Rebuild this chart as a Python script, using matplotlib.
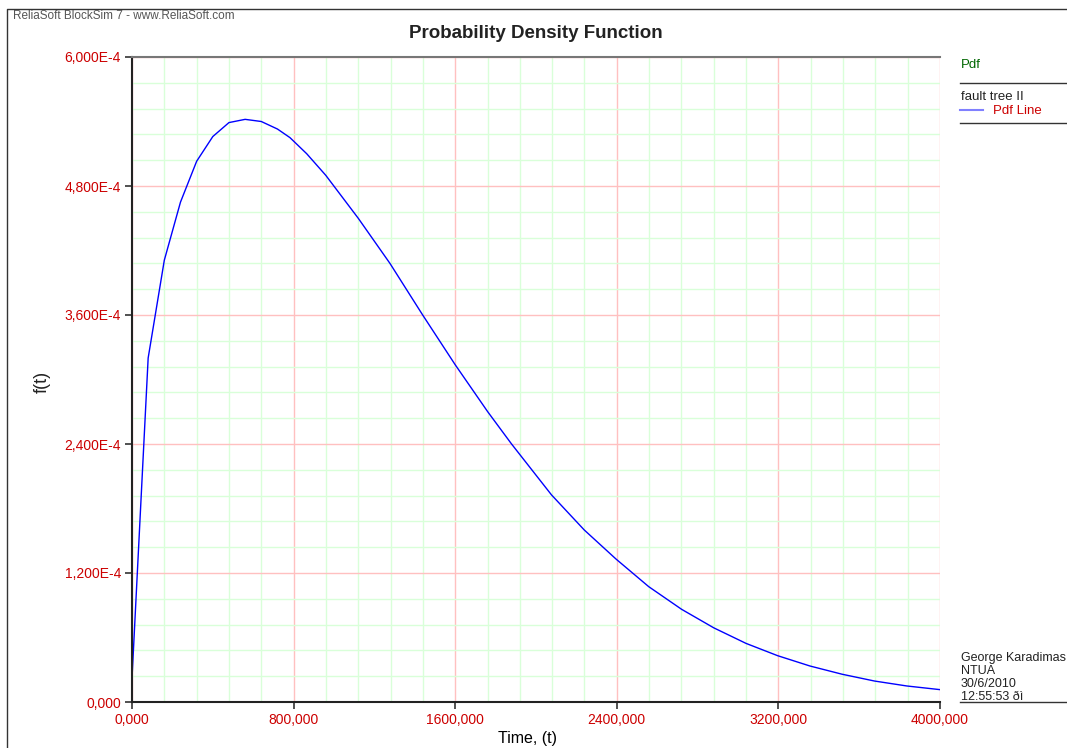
import matplotlib.pyplot as plt
from matplotlib.lines import Line2D
from matplotlib.ticker import MultipleLocator

plt.rcParams['font.family'] = ['Liberation Sans', 'DejaVu Sans']

# pdf curve (time, f(t) in units of 1E-4)
time = [0, 80, 160, 240, 320, 400, 480, 560, 640, 720, 782, 865, 959, 1120,
        1277, 1439, 1599, 1761, 1879, 2077, 2239, 2396, 2558, 2721, 2880,
        3040, 3196, 3356, 3516, 3676, 3836, 4000]
pdf_e4 = [0.22, 3.20, 4.11, 4.65, 5.03, 5.26, 5.39, 5.42, 5.40, 5.33, 5.25,
          5.10, 4.90, 4.50, 4.08, 3.60, 3.14, 2.70, 2.40, 1.926, 1.60, 1.33,
          1.073, 0.862, 0.69, 0.545, 0.431, 0.335, 0.258, 0.195, 0.149, 0.115]
pdf = [v * 1e-4 for v in pdf_e4]

xticks = [0, 800, 1600, 2400, 3200, 4000]
xtick_labels = ['0,000', '800,000', '1600,000', '2400,000', '3200,000', '4000,000']
yticks = [0, 1.2e-4, 2.4e-4, 3.6e-4, 4.8e-4, 6.0e-4]
ytick_labels = ['0,000', '1,200E-4', '2,400E-4', '3,600E-4', '4,800E-4', '6,000E-4']

info_lines = ['George Karadimas', 'NTUA', '30/6/2010', '12:55:53 ðì']

W, H = 1067, 748
fig = plt.figure(figsize=(W / 100, H / 100), dpi=100)
ax = fig.add_axes([132 / W, 1 - 702 / H, 808 / W, 645 / H])

ax.plot(time, pdf, color='#0000ff', lw=1.0)
ax.set_xlim(0, 4000)
ax.set_ylim(0, 6e-4)
ax.set_xticks(xticks, xtick_labels)
ax.set_yticks(yticks, ytick_labels)
ax.xaxis.set_minor_locator(MultipleLocator(160))
ax.yaxis.set_minor_locator(MultipleLocator(2.4e-5))
ax.grid(which='minor', color='#d9ffd9', lw=1.0)
ax.grid(which='major', color='#ffc0c0', lw=1.0)
ax.set_axisbelow(True)
ax.tick_params(which='minor', length=0)
ax.tick_params(which='major', length=5, width=1.2, color='#333333',
               labelcolor='#cc0000', labelsize=10, pad=3)

for s in ['left', 'bottom']:
    ax.spines[s].set_color('#222222')
    ax.spines[s].set_linewidth(1.5)
ax.spines['top'].set_color('#777777')
ax.spines['top'].set_linewidth(1.5)
ax.spines['right'].set_visible(False)

fig.text(42 / W, 1 - 382 / H, 'f(t)', rotation=90, ha='center', va='center',
         fontsize=13, color='#222222')
fig.text(528 / W, 1 - 738 / H, 'Time, (t)', ha='center', va='center', fontsize=11.5)
fig.text(536 / W, 1 - 33 / H, 'Probability Density Function', ha='center',
         va='center', fontsize=13.5, weight='bold', color='#222222')
fig.text(13 / W, 1 - 16 / H, 'ReliaSoft BlockSim 7 - www.ReliaSoft.com',
         ha='left', va='center', fontsize=8.5, color='#555555')

# outer frame
fig.add_artist(Line2D([7 / W, 7 / W, 1], [0, 1 - 9 / H, 1 - 9 / H],
                      color='#333333', lw=1.0, transform=fig.transFigure))

# legend panel on the right
fig.text(961 / W, 1 - 65 / H, 'Pdf', color='#006600', fontsize=9.5, va='center')
fig.add_artist(Line2D([960 / W, 1], [1 - 83 / H] * 2, color='#333333', lw=1.0,
                      transform=fig.transFigure))
fig.text(961 / W, 1 - 97 / H, 'fault tree II', color='#222222', fontsize=9.5,
         va='center')
fig.add_artist(Line2D([960 / W, 983 / W], [1 - 110 / H] * 2, color='#8080ff', lw=1.5,
                      transform=fig.transFigure))
fig.text(993 / W, 1 - 111 / H, 'Pdf Line', color='#cc0000', fontsize=9.5, va='center')
fig.add_artist(Line2D([960 / W, 1], [1 - 123 / H] * 2, color='#333333', lw=1.0,
                      transform=fig.transFigure))

for i, line in enumerate(info_lines):
    fig.text(961 / W, 1 - (658 + 13 * i) / H, line, color='#222222', fontsize=9,
             va='center')
fig.add_artist(Line2D([960 / W, 1], [1 - 702 / H] * 2, color='#333333', lw=1.0,
                      transform=fig.transFigure))

fig.savefig('out.png', dpi=100)
